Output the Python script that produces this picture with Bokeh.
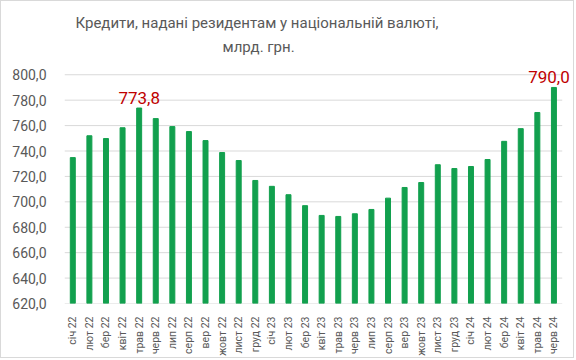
import math
from bokeh.plotting import figure
from bokeh.models import (Range1d, FixedTicker, CustomJSTickFormatter, Title, Label)
from bokeh.embed import file_html
from bokeh.resources import INLINE

months = ["січ 22", "лют 22", "бер 22", "квіт 22", "трав 22", "черв 22",
          "лип 22", "серп 22", "вер 22", "жовт 22", "лист 22", "груд 22",
          "січ 23", "лют 23", "бер 23", "квіт 23", "трав 23", "черв 23",
          "лип 23", "серп 23", "вер 23", "жовт 23", "лист 23", "груд 23",
          "січ 24", "лют 24", "бер 24", "квіт 24", "трав 24", "черв 24"]
values = [734.8, 752.0, 749.8, 758.3, 773.8, 765.5,
          759.2, 755.3, 748.2, 738.8, 732.5, 716.8,
          712.2, 705.6, 697.0, 689.3, 688.5, 690.6,
          694.0, 702.9, 711.3, 715.2, 729.2, 726.2,
          727.8, 733.3, 747.6, 757.6, 770.3, 790.0]
peak_months = ["трав 22", "черв 24"]
peak_values = [773.8, 790.0]
peak_texts = ["773,8", "790,0"]
y_ticks = [620, 640, 660, 680, 700, 720, 740, 760, 780, 800]
title_lines = ["Кредити, надані резидентам у національній валюті,", "млрд. грн."]

FONT = "Roboto"
GRAY = "#595959"
GREEN = "#12A04E"
RED = "#C00000"
GRID = "#D9D9D9"

idx = list(range(len(months)))
x_lo, x_hi = -0.5, len(months) - 0.5

p = figure(x_range=Range1d(x_lo, x_hi + 0.8), y_range=Range1d(620, 812),
           width=574, height=358, output_backend="svg", toolbar_location=None,
           min_border_left=63, min_border_right=0, min_border_top=58,
           min_border_bottom=56)
p.styles = {"border": "1px solid #D9D9D9"}

# horizontal gridlines limited to the category band (as in the original)
p.segment(x0=[x_lo] * len(y_ticks), x1=[x_hi] * len(y_ticks), y0=y_ticks, y1=y_ticks,
          line_color=GRID, line_width=1, level="underlay")

p.vbar(x=idx, top=values, bottom=620, width=0.3, color=GREEN)

p.add_layout(Title(text=title_lines[1], align="left", offset=158, standoff=8,
                   text_font=FONT, text_font_size="15px", text_font_style="normal",
                   text_color=GRAY), "above")
p.add_layout(Title(text=title_lines[0], align="left", offset=11, standoff=0,
                   text_font=FONT, text_font_size="15px", text_font_style="normal",
                   text_color=GRAY), "above")

for (m, v, t), xoff in zip(zip(peak_months, peak_values, peak_texts), [0, -5]):
    p.add_layout(Label(x=months.index(m), y=v, text=t, text_align="center",
                       text_baseline="alphabetic", y_offset=10, x_offset=xoff,
                       text_font=FONT, text_font_size="17px", text_color=RED))

p.outline_line_color = None
p.xgrid.grid_line_color = None
p.ygrid.grid_line_color = None

p.yaxis.ticker = FixedTicker(ticks=y_ticks)
p.yaxis.formatter = CustomJSTickFormatter(code="return tick.toFixed(1).replace('.', ',');")
p.yaxis.axis_line_color = None
p.yaxis.major_tick_line_color = None
p.yaxis.minor_tick_line_color = None
p.yaxis.major_label_text_font = FONT
p.yaxis.major_label_text_font_size = "14px"
p.yaxis.major_label_text_color = GRAY
p.yaxis.major_label_standoff = 12

p.xaxis.ticker = FixedTicker(ticks=idx)
p.xaxis.major_label_overrides = {i: m for i, m in zip(idx, months)}
p.xaxis.axis_line_color = None
p.xaxis.major_tick_line_color = None
p.xaxis.minor_tick_line_color = None
p.xaxis.major_label_orientation = math.pi / 2
p.xaxis.major_label_standoff = 7
p.xaxis.major_label_text_font = FONT
p.xaxis.major_label_text_font_size = "10.5px"
p.xaxis.major_label_text_color = GRAY

open("out.html", "w").write(file_html(p, INLINE))
